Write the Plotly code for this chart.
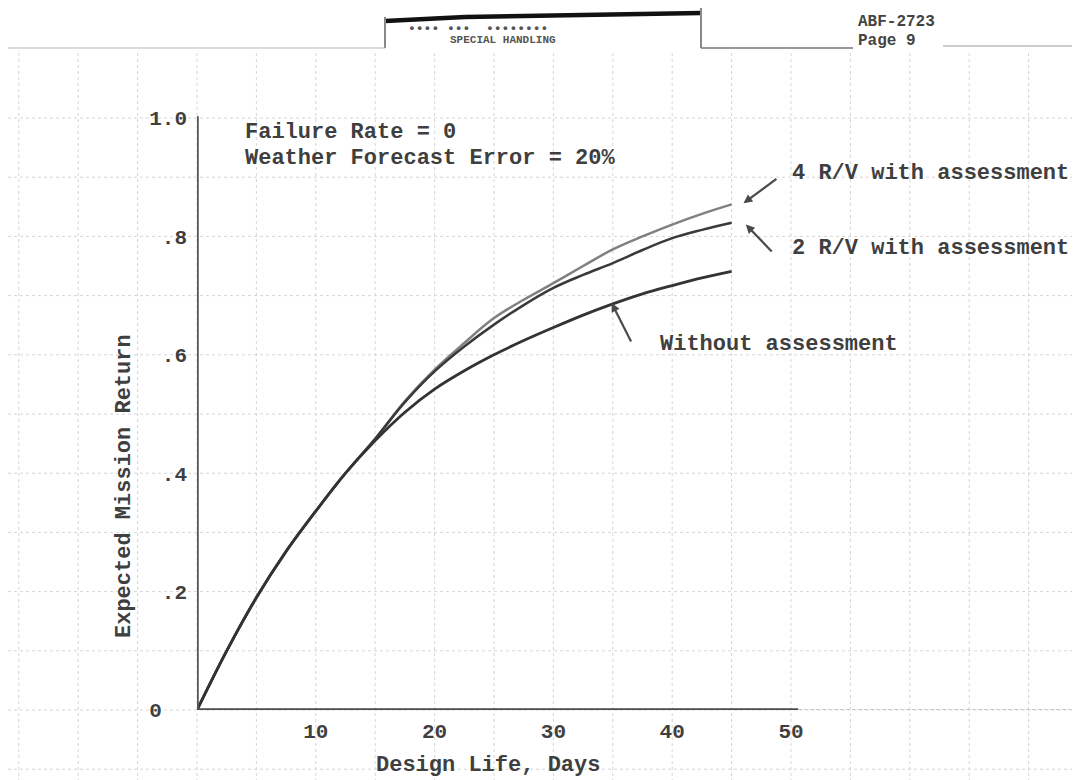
import plotly.graph_objects as go

# ---------------- data ----------------
design_days = [0, 2.5, 5, 7.5, 10, 12.5, 15, 17.5, 20, 22.5, 25, 27.5, 30,
               32.5, 35, 37.5, 40, 42.5, 45]
without_assessment = [0, 0.100, 0.190, 0.268, 0.336, 0.400, 0.455, 0.503, 0.542,
                      0.573, 0.600, 0.624, 0.646, 0.667, 0.686, 0.703, 0.717,
                      0.730, 0.741]
rv2_with_assessment = [0, 0.100, 0.190, 0.268, 0.336, 0.400, 0.458, 0.520, 0.572,
                       0.614, 0.651, 0.684, 0.713, 0.735, 0.755, 0.777, 0.797,
                       0.811, 0.823]
rv4_with_assessment = [0, 0.100, 0.190, 0.268, 0.336, 0.400, 0.458, 0.522, 0.575,
                       0.620, 0.662, 0.693, 0.721, 0.750, 0.778, 0.800, 0.820,
                       0.838, 0.854]

x_tick_vals = [10, 20, 30, 40, 50]
x_tick_text = ["10", "20", "30", "40", "50"]
y_tick_vals = [0, 0.2, 0.4, 0.6, 0.8, 1.0]
y_tick_text = ["0\u00a0\u00a0", ".2", ".4", ".6", ".8", "1.0"]

# ---------------- layout constants ----------------
W, H = 1080, 780
L, R, T, B = 189, 5, 104, 78
X_MAX = (W - L - R) / 11.88
Y_MAX = (H - T - B) / 592.0
FONT = "Liberation Mono"
INK = "#3f3f3f"
GRID = "#d6d6d6"


def px(xp):
    return (xp - L) / (W - L - R)


def py(yp):
    return (H - B - yp) / (H - T - B)


fig = go.Figure()

# graph-paper grid, spanning the whole sheet (every 5 days / every 0.1)
for k in range(-4, 16):
    d = 5 * k
    fig.add_shape(type="line", xref="paper", yref="paper", layer="below",
                  x0=d / X_MAX, x1=d / X_MAX, y0=py(780), y1=py(42),
                  line=dict(color=GRID, width=1, dash="dot"))
for k in range(-1, 11):
    v = 0.1 * k
    fig.add_shape(type="line", xref="paper", yref="paper", layer="below",
                  x0=px(0), x1=px(W), y0=v / Y_MAX, y1=v / Y_MAX,
                  line=dict(color=GRID, width=1, dash="dot"))

fig.add_trace(go.Scatter(x=design_days, y=rv4_with_assessment, mode="lines",
                         line=dict(color="#808080", width=2.5, shape="spline"),
                         name="4 R/V with assessment", showlegend=False))
fig.add_trace(go.Scatter(x=design_days, y=rv2_with_assessment, mode="lines",
                         line=dict(color="#3a3a3a", width=2.5, shape="spline"),
                         name="2 R/V with assessment", showlegend=False))
fig.add_trace(go.Scatter(x=design_days, y=without_assessment, mode="lines",
                         line=dict(color="#333333", width=2.8, shape="spline"),
                         name="Without assessment", showlegend=False))

# axis lines
fig.add_shape(type="line", xref="x", yref="y", x0=0, x1=0, y0=0, y1=1.003,
              line=dict(color="#555555", width=3.5))
fig.add_shape(type="line", xref="x", yref="y", x0=0, x1=50.6, y0=0, y1=0,
              line=dict(color="#4a4a4a", width=3.5))
fig.add_shape(type="line", xref="x", yref="y", x0=50.6, x1=X_MAX, y0=0, y1=0,
              line=dict(color="#b0b0b0", width=1.5, dash="dot"))

annots = []


def txt(x, y, s, size=22, xref="x", yref="y", xanchor="left", angle=0, color=INK):
    annots.append(dict(x=x, y=y, xref=xref, yref=yref, text="<b>" + s + "</b>",
                       showarrow=False, xanchor=xanchor, yanchor="middle",
                       textangle=angle,
                       font=dict(family=FONT, size=size, color=color)))


def arrow(hx, hy, tx, ty):
    annots.append(dict(x=hx, y=hy, ax=tx, ay=ty, xref="x", yref="y",
                       axref="x", ayref="y", text="", showarrow=True,
                       arrowhead=2, arrowsize=0.8, arrowwidth=2.2,
                       arrowcolor="#4a4a4a"))


txt(3.87, 0.975, "Failure Rate = 0", size=22)
txt(3.87, 0.932, "Weather Forecast Error = 20%", size=22)
txt(49.9, 0.907, "4 R/V with assessment", size=22)
txt(49.9, 0.780, "2 R/V with assessment", size=22)
txt(38.8, 0.617, "Without assessment", size=22)
arrow(46.0, 0.856, 48.9, 0.899)
arrow(46.2, 0.820, 48.5, 0.772)
arrow(34.9, 0.6875, 36.6, 0.620)

# axis titles
txt(px(116), py(478), "Expected Mission Return", size=22, xref="paper",
    yref="paper", xanchor="center", angle=-90)
txt(px(480), py(757), "Design Life, Days", size=22, xref="paper",
    yref="paper", xanchor="center")

# document header
txt(px(470), py(21), "•••• •••  ••••••••", size=13, xref="paper",
    yref="paper", xanchor="center", color="#555555")
txt(px(495), py(32), "SPECIAL HANDLING", size=11, xref="paper",
    yref="paper", xanchor="center", color="#555555")
txt(px(848), py(14), "ABF-2723", size=16, xref="paper", yref="paper",
    color="#444444")
txt(px(848), py(33), "Page 9", size=16, xref="paper", yref="paper",
    color="#444444")

for (x0, y0, x1, y1, c, w) in [
    (377, 13, 457, 9, "#111111", 4.5), (457, 9, 693, 5, "#111111", 4.5),
    (377, 9, 377, 40, "#888888", 2), (693, 0, 693, 40, "#888888", 2),
    (0, 40, 377, 40, "#b8b8b8", 1.2), (693, 40, 845, 40, "#777777", 1.5),
    (935, 38, 1080, 38, "#999999", 1.2)]:
    fig.add_shape(type="line", xref="paper", yref="paper",
                  x0=px(x0), y0=py(y0), x1=px(x1), y1=py(y1),
                  line=dict(color=c, width=w))

fig.update_layout(
    width=W, height=H,
    margin=dict(l=L, r=R, t=T, b=B, pad=0),
    paper_bgcolor="white", plot_bgcolor="white",
    annotations=annots,
    xaxis=dict(range=[0, X_MAX], tickvals=x_tick_vals,
               ticktext=["<b>" + t + "</b>" for t in x_tick_text],
               ticks="", showline=False, zeroline=False, showgrid=False,
               ticklabelstandoff=6,
               tickfont=dict(family=FONT, size=21, color=INK)),
    yaxis=dict(range=[0, Y_MAX], tickvals=y_tick_vals,
               ticktext=["<b>" + t + "</b>" for t in y_tick_text],
               ticks="", showline=False, zeroline=False, showgrid=False,
               ticklabelstandoff=9,
               tickfont=dict(family=FONT, size=21, color=INK)),
)

fig.write_html("out.html")
